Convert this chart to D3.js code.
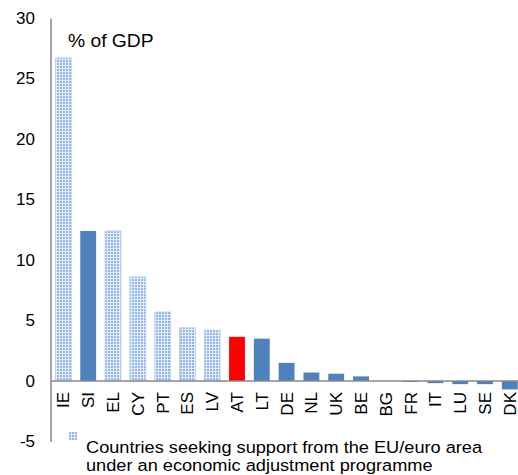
<!DOCTYPE html>
<html><head><meta charset="utf-8">
<script src="https://cdn.jsdelivr.net/npm/d3@7"></script>
<style>body{margin:0;background:#fff;} text{font-family:"Liberation Sans",Arial,sans-serif;fill:#000;}</style>
</head><body>
<svg id="c" width="518" height="475"></svg>
<script>
const categories = ["IE","SI","EL","CY","PT","ES","LV","AT","LT","DE","NL","UK","BE","BG","FR","IT","LU","SE","DK"];
const values = [26.7,12.4,12.4,8.6,5.7,4.4,4.2,3.65,3.5,1.5,0.7,0.6,0.38,0.0,-0.08,-0.18,-0.26,-0.26,-0.7];
const programme = ["IE","EL","CY","PT","ES","LV"];
const highlight = ["AT"];
const yTicks = [-5,0,5,10,15,20,25,30];
const unitLabel = "% of GDP";
const legendLines = ["Countries seeking support from the EU/euro area","under an economic adjustment programme"];

const svg = d3.select("#c");
const defs = svg.append("defs");
const pat = defs.append("pattern").attr("id","chk").attr("patternUnits","userSpaceOnUse")
  .attr("width",3).attr("height",3);
pat.append("rect").attr("width",3).attr("height",3).attr("fill","#e3ecfa");
pat.append("rect").attr("width",2).attr("height",2).attr("fill","#92b5ec");

const x = d3.scaleBand().domain(categories).range([51, 51+19*24.8]).paddingInner(0.36).paddingOuter(0.18);
const y = d3.scaleLinear().domain([-5,30]).range([441.5,18]);

// bars
svg.append("g").selectAll("rect").data(categories).join("rect")
  .attr("x", d=>x(d))
  .attr("width", x.bandwidth())
  .attr("y", (d,i)=>y(Math.max(0,values[i])))
  .attr("height", (d,i)=>Math.abs(y(values[i])-y(0)))
  .attr("fill", d=> programme.includes(d) ? "url(#chk)" : highlight.includes(d) ? "#ff0000" : "#4f81bd")
  .attr("stroke", d=> programme.includes(d) ? "#b9cff2" : "none")
  .attr("stroke-width", 0.8);

// y axis
const yAxis = d3.axisLeft(y).tickValues(yTicks).tickSize(0).tickPadding(16).tickFormat(d=>String(d));
const ga = svg.append("g").attr("transform","translate(51,0)").call(yAxis);
ga.select(".domain").attr("stroke","#888").attr("stroke-width",1.5).attr("d","M0,18.5V442");
ga.selectAll("text").style("font-size","17px").attr("font-family",null);

// zero line
svg.append("line").attr("x1",51).attr("x2",518).attr("y1",y(0)).attr("y2",y(0))
  .attr("stroke","#888").attr("stroke-width",1.5);

// x labels
svg.append("g").selectAll("text").data(categories).join("text")
  .attr("transform", d=>`translate(${x(d)+x.bandwidth()/2},392) rotate(-90)`)
  .attr("text-anchor","end").attr("dy","0.35em")
  .style("font-size","17px").text(d=>d);

// unit label
svg.append("text").attr("transform","translate(68,47) scale(1.07,1)").style("font-size","18px").text(unitLabel);

// legend
svg.append("rect").attr("x",69).attr("y",432).attr("width",8).attr("height",8).attr("fill","url(#chk)");
svg.append("text").attr("transform","translate(86,453) scale(1.07,1)").style("font-size","17px").text(legendLines[0]);
svg.append("text").attr("transform","translate(86,471) scale(1.07,1)").style("font-size","17px").text(legendLines[1]);
</script>
</body></html>
